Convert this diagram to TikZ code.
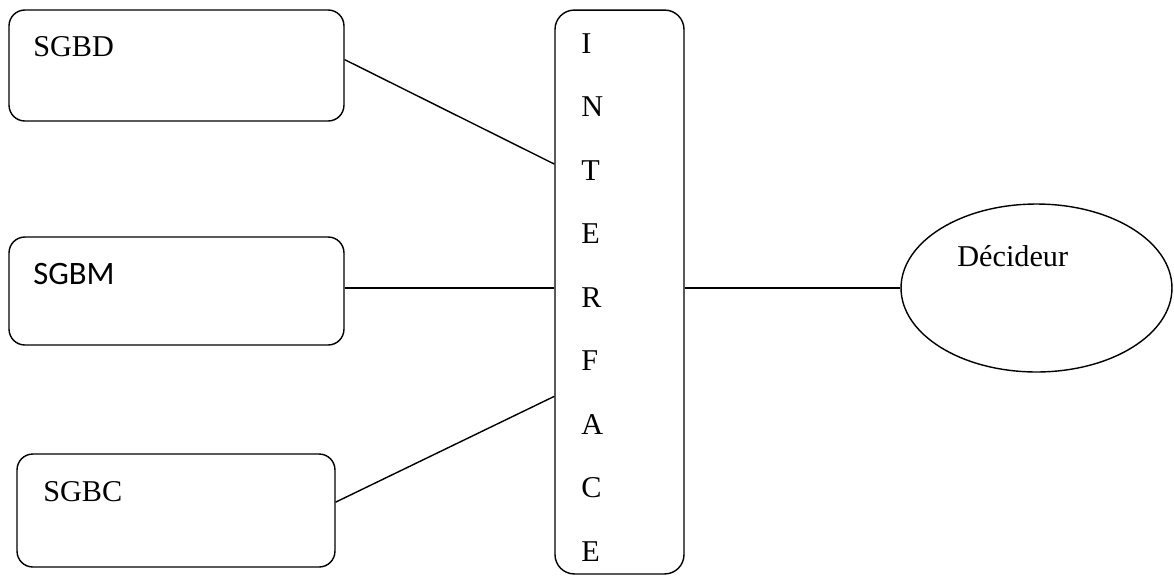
\documentclass[tikz,border=0pt]{standalone}
\usepackage{fontspec}
\setmainfont{Liberation Serif}
\newfontfamily\calibri{Carlito}
\usepackage{tikz}
\usetikzlibrary{shapes.geometric,positioning,calc}

\begin{document}
\begin{tikzpicture}[
  x=0.02cm, y=-0.02cm,
  serif/.style={font=\fontsize{17.2}{20}\selectfont},
  box/.style={rectangle, rounded corners=9pt, draw=black, line width=0.8pt,
              inner sep=0pt},
  tag/.style={serif, anchor=base west, inner sep=0pt},
  letter/.style={serif, anchor=base west, inner sep=0pt},
  link/.style={draw=black, line width=0.8pt},
]
\useasboundingbox (0,0) rectangle (1174,576);

% Sources
\node[box, minimum width=6.70cm, minimum height=2.22cm] (sgbd) at (176.5, 65.5) {};
\node[box, minimum width=6.70cm, minimum height=2.16cm] (sgbm) at (176.5,291.0) {};
\node[box, minimum width=6.36cm, minimum height=2.26cm] (sgbc) at (176.0,510.5) {};
\node[tag] (tbd) at (33, 56) {SGBD};
\node[tag, font=\calibri\fontsize{18.6}{22}\selectfont] (tbm) at (33,284) {SGBM};
\node[tag] (tbc) at (43,501) {SGBC};

% Interface column
\node[box, rounded corners=11pt, minimum width=2.58cm, minimum height=11.28cm]
  (iface) at (619.5,292) {};
\foreach \ch [count=\i from 0] in {I,N,T,E,R,F,A,C,E}
  \node[letter] (ch\i) at (581, 53+63.5*\i) {\ch};

% User
\node[ellipse, draw=black, line width=0.8pt, minimum width=5.42cm,
      minimum height=3.36cm, inner sep=0pt] (dec) at (1036.5,288) {};
\node[tag] (tdec) at (957,266) {Décideur};

% Edges
\draw[link] (sgbd.2) -- (iface.117);
\draw[link] (sgbm.1) -- (sgbm.1 -| iface.west);
\draw[link] (sgbc.3) -- (iface.238);
\draw[link] (dec.west -| iface.east) -- (dec.west);

\end{tikzpicture}
\end{document}
